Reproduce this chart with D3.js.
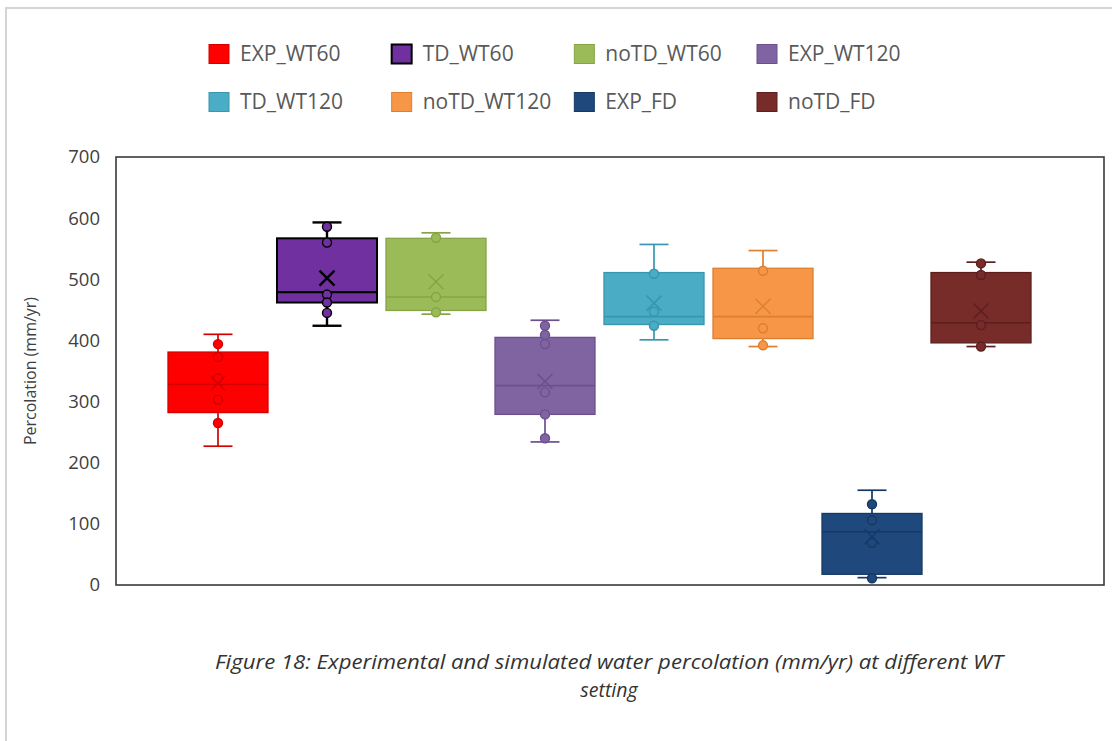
<!DOCTYPE html>
<html>
<head>
<meta charset="utf-8">
<script src="https://cdn.jsdelivr.net/npm/d3@7"></script>
<style>
  body { margin: 0; background: #ffffff; }
  svg { display: block; }
</style>
</head>
<body>
<svg id="chart" width="1112" height="741"></svg>
<script>
// Percolation (mm/yr) box-and-whisker summary per scenario
const series = ["EXP_WT60", "TD_WT60", "noTD_WT60", "EXP_WT120", "TD_WT120", "noTD_WT120", "EXP_FD", "noTD_FD"];
const fills  = ["#FF0000", "#7030A0", "#9BBB59", "#8064A2", "#4BACC6", "#F79646", "#1F497D", "#772C2A"];
const edges  = ["#D40000", "#000000", "#86A447", "#6B5090", "#3896AF", "#DC7F30", "#163963", "#5C1F1E"];

const whiskerLow  = [227, 424, 443, 234, 401, 390, 12, 390];
const q1          = [282, 462, 449, 279, 426, 403, 17.5, 396];
const median      = [328, 479, 471, 326, 439, 439, 87, 429];
const q3          = [381, 567, 567, 405, 511, 518, 117, 511];
const whiskerHigh = [410, 593, 576, 433, 557, 547, 155, 528];
const mean        = [330, 502, 496, 333, 461, 456, 79, 448];
const points = [
  [394, 373, 338, 303, 265],
  [586, 560, 475, 462, 445],
  [568, 471, 446],
  [424, 409, 394, 315, 279, 240],
  [509, 447, 424],
  [514, 420, 392],
  [132, 106, 69, 11],
  [526, 507, 425, 390]
];
const yTicks = [0, 100, 200, 300, 400, 500, 600, 700];
const yTitle = "Percolation (mm/yr)";
const captionLines = [
  "Figure 18: Experimental and simulated water percolation (mm/yr) at different WT",
  "setting"
];

const svg = d3.select("#chart");

// light outer frame of the figure
svg.append("rect")
  .attr("x", 6).attr("y", 8).attr("width", 1300).attr("height", 900)
  .attr("fill", "none").attr("stroke", "#d4d4d4").attr("stroke-width", 2);

const plot = { left: 116, top: 157, right: 1104, bottom: 585 };

const y = d3.scaleLinear().domain([0, 700]).range([plot.bottom, plot.top]);
const x = d3.scalePoint().domain(series).range([218, 981]);
const boxW = 100, capW = 29;

// plot area border
svg.append("rect")
  .attr("x", plot.left).attr("y", plot.top)
  .attr("width", plot.right - plot.left).attr("height", plot.bottom - plot.top)
  .attr("fill", "none").attr("stroke", "#3a3a3a").attr("stroke-width", 1.6);

// y axis labels
const yAxis = svg.append("g")
  .attr("transform", `translate(${plot.left},0)`)
  .call(d3.axisLeft(y).tickValues(yTicks).tickSize(0).tickPadding(16));
yAxis.select(".domain").remove();
yAxis.selectAll("text")
  .attr("fill", "#404040")
  .style("font-family", "'Open Sans', 'Noto Sans', sans-serif")
  .style("font-size", "18.5px");

svg.append("text")
  .attr("transform", `translate(36,${(plot.top + plot.bottom) / 2}) rotate(-90)`)
  .attr("text-anchor", "middle")
  .attr("fill", "#404040")
  .style("font-family", "'Open Sans', 'Noto Sans', sans-serif")
  .style("font-size", "16px")
  .text(yTitle);

// boxes
const groups = svg.append("g").selectAll("g")
  .data(series.map((s, i) => ({ s, i })))
  .join("g");

groups.each(function (d) {
  const g = d3.select(this);
  const i = d.i;
  const cx = x(d.s);
  const sw = i === 1 ? 2 : 1.3;

  // whiskers
  [[whiskerLow[i], q1[i]], [q3[i], whiskerHigh[i]]].forEach(([a, b]) => {
    g.append("line")
      .attr("x1", cx).attr("x2", cx).attr("y1", y(a)).attr("y2", y(b))
      .attr("stroke", edges[i]).attr("stroke-width", sw + 0.4);
  });
  [whiskerLow[i], whiskerHigh[i]].forEach(v => {
    g.append("line")
      .attr("x1", cx - capW / 2).attr("x2", cx + capW / 2).attr("y1", y(v)).attr("y2", y(v))
      .attr("stroke", edges[i]).attr("stroke-width", sw + 0.4);
  });

  // box
  g.append("rect")
    .attr("x", cx - boxW / 2).attr("width", boxW)
    .attr("y", y(q3[i])).attr("height", y(q1[i]) - y(q3[i]))
    .attr("fill", fills[i]).attr("stroke", edges[i]).attr("stroke-width", sw);

  // median
  g.append("line")
    .attr("x1", cx - boxW / 2).attr("x2", cx + boxW / 2)
    .attr("y1", y(median[i])).attr("y2", y(median[i]))
    .attr("stroke", edges[i]).attr("stroke-width", sw + 0.3);

  // data points
  g.selectAll("circle")
    .data(points[i])
    .join("circle")
    .attr("cx", cx).attr("cy", v => y(v)).attr("r", 4.5)
    .attr("fill", fills[i]).attr("stroke", edges[i]).attr("stroke-width", 1.4);

  // mean marker
  const my = y(mean[i]), m = 7.5;
  g.append("path")
    .attr("d", `M${cx - m},${my - m}L${cx + m},${my + m}M${cx - m},${my + m}L${cx + m},${my - m}`)
    .attr("stroke", edges[i]).attr("stroke-width", i === 1 ? 2.4 : 1.5).attr("fill", "none");
});

// legend
const legendX = d3.scalePoint().domain([0, 1, 2, 3]).range([209, 757]);
const legendY = [54, 102];
const legend = svg.append("g").selectAll("g")
  .data(series.map((s, i) => ({ s, i })))
  .join("g")
  .attr("transform", d => `translate(${legendX(d.i % 4)},${legendY[Math.floor(d.i / 4)]})`);

legend.append("rect")
  .attr("x", 0).attr("y", -9.5).attr("width", 20).attr("height", 19)
  .attr("fill", d => fills[d.i])
  .attr("stroke", d => edges[d.i])
  .attr("stroke-width", d => d.i === 1 ? 2 : 1);

legend.append("text")
  .attr("x", 31).attr("y", 7)
  .attr("fill", "#595959")
  .style("font-family", "'Open Sans', 'Noto Sans', sans-serif")
  .style("font-size", "21px")
  .text(d => d.s);

// caption
const cap = svg.append("g").selectAll("text")
  .data(captionLines)
  .join("text")
  .attr("x", 609)
  .attr("y", (d, k) => 669 + k * 28)
  .attr("text-anchor", "middle")
  .attr("fill", "#333333")
  .style("font-family", "'Open Sans', 'Noto Sans', sans-serif")
  .style("font-style", "italic")
  .style("font-size", "19.5px")
  .text(d => d);
cap.filter((d, k) => k === 0)
  .attr("textLength", 788)
  .attr("lengthAdjust", "spacingAndGlyphs");
</script>
</body>
</html>
